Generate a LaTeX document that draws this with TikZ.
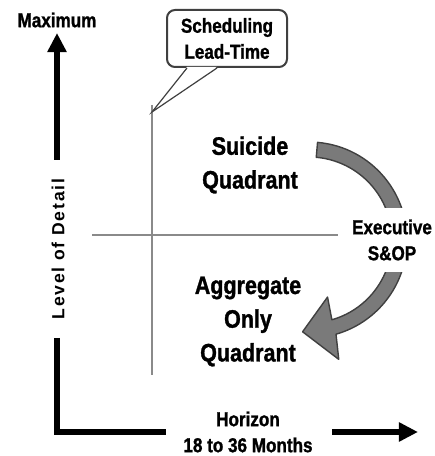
\documentclass[tikz,border=0pt]{standalone}
\usepackage{fontspec}
\setsansfont{Liberation Sans}[FakeStretch=0.85, BoldFeatures={FakeBold=1.2}]
\newfontfamily\spaziata{Liberation Sans}[LetterSpace=10]
\usetikzlibrary{arrows.meta}
\definecolor{grigiofreccia}{HTML}{7A7A7A}
\definecolor{grigiolinea}{HTML}{8A8A8A}
\definecolor{bordo}{HTML}{404040}

\begin{document}
\begin{tikzpicture}[font=\sffamily\bfseries]

        % Stili per assi, griglia e testi
        \tikzset{
            asse/.style={line width=1.6mm, line join=miter},
            punta/.style={-{Triangle[length=4.8mm,width=4.6mm]}},
            griglia/.style={grigiolinea, line width=0.5mm},
            testo/.style={font=\sffamily\bfseries\fontsize{14.3}{18.5}\selectfont, align=center},
            grande/.style={font=\sffamily\bfseries\fontsize{18}{24}\selectfont, align=center},
            freccia/.style={fill=grigiofreccia, draw=bordo, line width=0.35mm, line join=round}
        }

        % Area totale del disegno
        \useasboundingbox (0,0) rectangle (10.85,11.4);

        % Asse verticale (livello di dettaglio)
        \node[testo] (massimo) at (1.425,10.9) {Maximum};
        \coordinate (vbase) at (1.425,7.4);
        \coordinate (vcima) at (1.425,10.575);
        \draw[asse, punta] (vbase) -- (vcima);
        \node[rotate=90, font=\spaziata\bfseries\fontsize{12.5}{14}\selectfont] (dettaglio) at (1.45,5.175) {Level of Detail};

        % Angolo in basso a sinistra
        \coordinate (lalto) at (1.425,2.95);
        \coordinate (langolo) at (1.425,0.6);
        \coordinate (ldestra) at (4.15,0.6);
        \draw[asse] (lalto) -- (langolo) -- (ldestra);

        % Asse orizzontale (orizzonte)
        \node[testo] (orizzonte) at (6.2,0.6) {Horizon\\18 to 36 Months};
        \coordinate (hbase) at (8.3,0.6);
        \coordinate (hcima) at (10.45,0.6);
        \draw[asse, punta] (hbase) -- (hcima);

        % Croce dei quadranti
        \coordinate (gsu) at (3.8,8.775);
        \coordinate (ggiu) at (3.8,2.025);
        \coordinate (gsx) at (2.3,5.525);
        \coordinate (gdx) at (8.45,5.525);
        \draw[griglia] (gsu) -- (ggiu);
        \draw[griglia] (gsx) -- (gdx);

        % Fumetto in alto
        \node[testo, draw=bordo, line width=0.5mm, rounded corners=0.2cm, fill=white,
              minimum width=3cm, minimum height=1.425cm, inner sep=0pt] (programma) at (5.675,10.4375) {Scheduling\\Lead-Time};
        \coordinate (punto) at (3.8,8.6);
        \fill[white] ([xshift=-1cm,yshift=0.3mm]programma.south) -- (punto) -- ([xshift=-0.25cm,yshift=0.3mm]programma.south) -- cycle;
        \draw[bordo, line width=0.3mm, line join=miter] ([xshift=-1cm]programma.south) -- (punto) -- ([xshift=-0.25cm]programma.south);

        % Nomi dei quadranti
        \node[grande] (suicidio) at (6.25,7.275) {Suicide\\Quadrant};
        \node[grande] (aggregato) at (6.2,3.3625) {Aggregate\\Only\\Quadrant};

        % Freccia curva attorno al centro
        \coordinate (centro) at (7.725,5.4);
        \draw[freccia, shift={(centro)}] (85:2.45) arc[start angle=85, end angle=-74, radius=2.45]
            -- (-76:3.075) -- (-94:2.3) -- (-72:1.5) -- (-74:2.075)
            arc[start angle=-74, end angle=85, radius=2.075] -- cycle;

        % Etichetta sopra la freccia
        \node[testo, fill=white, minimum height=1.6cm, minimum width=2.1cm] (esecutivo) at (9.8,5.4) {Executive\\S\&OP};

    \end{tikzpicture}
\end{document}
